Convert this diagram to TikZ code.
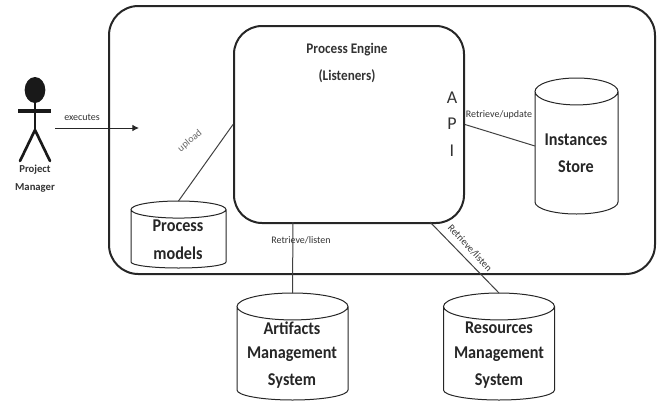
\documentclass[tikz,border=0pt]{standalone}
\usepackage{fontspec}
\setmainfont{Carlito}
\newfontfamily\narrowbold[FakeStretch=0.9]{Carlito Bold}
\usetikzlibrary{shapes.geometric,arrows.meta}
\tikzset{
  x=0.75pt,y=-0.75pt,
  frame/.style={draw=black!85,line width=1.5pt,rectangle,anchor=north west,inner sep=0pt},
  dbbox/.style={rectangle,inner sep=0pt,outer sep=0pt},
  dbline/.style={draw=black!85,line width=0.75pt},
  dblabel/.style={font=\fontsize{13.5}{16}\narrowbold,text=black!85,inner sep=0pt},
  small/.style={font=\fontsize{7.5}{9}\selectfont,text=black!80,inner sep=0pt},
  engine/.style={font=\fontsize{11}{12}\narrowbold,text=black!80,inner sep=0pt},
  api/.style={font=\fontsize{13.5}{14}\selectfont,text=black!80,inner sep=0pt},
  link/.style={draw=black!75,line width=0.75pt},
  limb/.style={draw=black!90,line width=2pt}
}
% name, x radius, top y radius, bottom y radius (all in pt)
\newcommand{\dbdraw}[4]{%
  \draw[dbline] ([yshift=-#3]#1.north west) -- ([yshift=#4]#1.south west)
    arc[start angle=180,end angle=360,x radius=#2,y radius=#4]
    -- ([yshift=-#3]#1.north east)
    arc[start angle=0,end angle=180,x radius=#2,y radius=#3]
    arc[start angle=180,end angle=360,x radius=#2,y radius=#3];}
\begin{document}
\begin{tikzpicture}
\useasboundingbox (0,0) rectangle (669,401);
\node[frame,rounded corners=22pt,minimum width=409.5pt,minimum height=201pt] (outer) at (108,5) {};
\node[frame,rounded corners=21pt,minimum width=172.5pt,minimum height=147.75pt] (inner) at (233,25) {};
\node[dbbox,minimum width=71.25pt,minimum height=50.25pt] (models) at (178.5,234.5) {};
\node[dbbox,minimum width=62.25pt,minimum height=102pt] (instances) at (576.5,146) {};
\node[dbbox,minimum width=83.25pt,minimum height=80.25pt] (artifacts) at (292.5,346.5) {};
\node[dbbox,minimum width=83.25pt,minimum height=80.25pt] (resources) at (499,346.5) {};
\dbdraw{models}{35.625pt}{6.4pt}{4.5pt}
\dbdraw{instances}{31.125pt}{10.1pt}{9pt}
\dbdraw{artifacts}{41.625pt}{10.1pt}{7.5pt}
\dbdraw{resources}{41.625pt}{10.1pt}{7.5pt}
\node[dblabel] (l1) at (178,226) {Process};
\node[dblabel] (l2) at (178,253) {models};
\node[dblabel] (l3) at (576,140) {Instances};
\node[dblabel] (l4) at (576,167) {Store};
\node[dblabel] (l5) at (292,328) {Artifacts};
\node[dblabel] (l6) at (292,354) {Management};
\node[dblabel] (l7) at (292,381) {System};
\node[dblabel] (l8) at (499,328) {Resources};
\node[dblabel] (l9) at (499,354) {Management};
\node[dblabel] (l10) at (499,381) {System};
\node[engine] (e1) at (347,50) {Process Engine};
\node[engine] (e2) at (347,76) {(Listeners)};
\node[api] (a1) at (452,98) {A};
\node[api] (a2) at (452,124) {P};
\node[api] (a3) at (452,151) {I};
\coordinate (tapa) at (293,222);
\coordinate (tapr) at (430,222);
\draw[link] (inner.west) -- (models.north);
\draw[link] (inner.east) -- (instances.west);
\draw[link] (tapa) -- (artifacts.north);
\draw[link] (tapr) -- (resources.north);
\node[small] (n1) at (301,240) {Retrieve/listen};
\node[small,rotate=-47] (n2) at (470,248) {Retrieve/listen};
\node[small] (n3) at (499,115) {Retrieve/update};
\node[small,rotate=40,text=black!60] (n4) at (190,141) {upload};
% actor
\node[ellipse,fill=black!90,inner sep=0pt,minimum width=15.5pt,minimum height=19.5pt] (head) at (35,90) {};
\coordinate (hip) at (35,130);
\coordinate (armL) at (18,111);
\coordinate (armR) at (51,111);
\coordinate (footL) at (20,161);
\coordinate (footR) at (50,161);
\draw[limb] (head.south) -- (hip);
\draw[limb,line width=3.5pt] (armL) -- (armR);
\draw[limb,line cap=round] (footL) -- (hip) -- (footR);
\node[font=\fontsize{8}{10}\bfseries,text=black!80,inner sep=0pt] (p1) at (35,170) {Project};
\node[font=\fontsize{8}{10}\bfseries,text=black!80,inner sep=0pt] (p2) at (35,188) {Manager};
\coordinate (from) at (55,128);
\coordinate (to) at (139,128);
\draw[draw=black!85,line width=0.75pt,-{Latex[length=5pt,width=5pt]}] (from) -- (to);
\node[small] (n5) at (82,117) {executes};
\end{tikzpicture}
\end{document}
